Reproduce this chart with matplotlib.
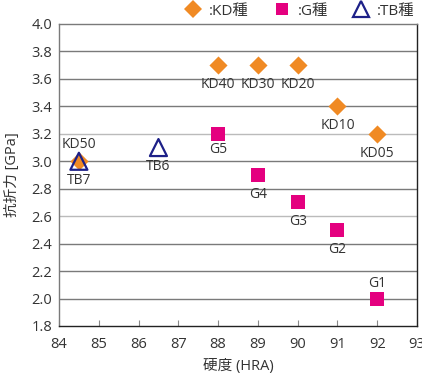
import matplotlib
matplotlib.use("Agg")
import matplotlib.pyplot as plt
from matplotlib.lines import Line2D

plt.rcParams['font.family'] = ['Open Sans', 'Noto Sans CJK JP', 'DejaVu Sans']

kd_names = ["KD50", "KD40", "KD30", "KD20", "KD10", "KD05"]
kd_x = [84.5, 88, 89, 90, 91, 92]
kd_y = [3.0, 3.7, 3.7, 3.7, 3.4, 3.2]

g_names = ["G5", "G4", "G3", "G2", "G1"]
g_x = [88, 89, 90, 91, 92]
g_y = [3.2, 2.9, 2.7, 2.5, 2.0]

tb_names = ["TB7", "TB6"]
tb_x = [84.5, 86.5]
tb_y = [3.0, 3.1]

xticks = [84, 85, 86, 87, 88, 89, 90, 91, 92, 93]
yticks = [1.8, 2.0, 2.2, 2.4, 2.6, 2.8, 3.0, 3.2, 3.4, 3.6, 3.8, 4.0]

c_kd = "#F08A24"
c_g = "#E4007F"
c_tb = "#1D2088"
txt = "#333333"

fig = plt.figure(figsize=(4.22, 3.92), dpi=100)
ax = fig.add_axes([59/422, 1-326/392, (417-59)/422, (326-24)/392])

ax.set_xlim(84, 93)
ax.set_ylim(1.8, 4.0)
ax.set_xticks(xticks)
ax.set_yticks(yticks)
ax.set_xticklabels([str(v) for v in xticks])
ax.set_yticklabels([f"{v:.1f}" for v in yticks])

for v in yticks[1:-1]:
    col = "#BBBBBB" if v in (3.2, 2.6) else "#7A7A7A"
    ax.axhline(v, color=col, lw=1.0, zorder=0)

for s in ["top", "left"]:
    ax.spines[s].set_color("#7A7A7A")
for s in ["bottom", "right"]:
    ax.spines[s].set_color("#222222")
for s in ax.spines.values():
    s.set_linewidth(1.0)

ax.tick_params(axis='x', direction='in', length=4, color="#888888", labelsize=10.5, labelcolor=txt, pad=8)
ax.tick_params(axis='y', length=0, labelsize=10.5, labelcolor=txt, pad=5)

ax.scatter(kd_x, kd_y, marker="D", s=85, color=c_kd, zorder=3, linewidths=0)
ax.scatter(g_x, g_y, marker="s", s=95, color=c_g, zorder=3, linewidths=0)
ax.scatter(tb_x, tb_y, marker="^", s=150, facecolors="none", edgecolors=c_tb, linewidths=1.6, zorder=4)

fs = 10
below = -14   # points, label centre below marker
above = 12
def lab(n, x, y, dy):
    ax.annotate(n, (x, y), xytext=(0, dy), textcoords="offset points", ha="center", va="center",
                fontsize=fs, color=txt, zorder=5)

for n, x, y in zip(kd_names, kd_x, kd_y):
    lab(n, x, y, above if n == "KD50" else below)
for n, x, y in zip(g_names, g_x, g_y):
    if n == "G1":
        lab(n, x, y, above - 1)
    elif n == "G5":
        lab(n, x, y, -11)
    else:
        lab(n, x, y, below)
for n, x, y in zip(tb_names, tb_x, tb_y):
    lab(n, x, y, below)

ax.set_xlabel("硬度 (HRA)", fontsize=10.5, color=txt, labelpad=5)
ax.set_ylabel("抗折力 [GPa]", fontsize=10.5, color=txt, labelpad=8)

handles = [
    Line2D([], [], marker="D", ls="none", color=c_kd, markersize=9, markeredgewidth=0),
    Line2D([], [], marker="s", ls="none", color=c_g, markersize=9, markeredgewidth=0),
    Line2D([], [], marker="^", ls="none", markerfacecolor="none", markeredgecolor=c_tb, markersize=11, markeredgewidth=1.6),
]
labels = [":KD種", ":G種", ":TB種"]
fig.legend(handles, labels, loc="upper right", bbox_to_anchor=(1.0, 1.01), ncol=3, frameon=False,
           fontsize=11, handletextpad=0.3, columnspacing=1.4, handlelength=1.5, borderaxespad=0.1,
           labelcolor=txt)

fig.savefig("out.png", dpi=100)
